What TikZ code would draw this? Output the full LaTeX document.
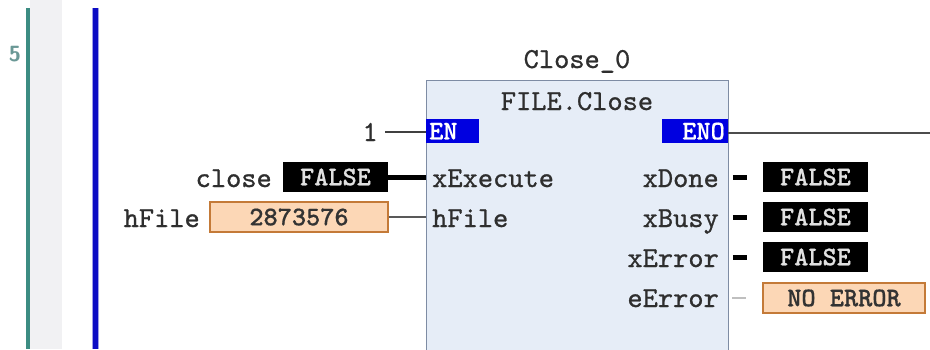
\documentclass[tikz,border=0pt]{standalone}
\usepackage{fontspec}
\newfontfamily\plcfont{lmmono10-regular}[Extension=.otf, FakeBold=0.9]
\newfontfamily\plcbold{lmmonolt10-bold}[Extension=.otf, FakeBold=0.5]
\usetikzlibrary{calc}
\definecolor{railteal}{HTML}{3C8C82}
\definecolor{railblue}{HTML}{0C0CC4}
\definecolor{stripgray}{HTML}{F1F1F3}
\definecolor{blkfill}{HTML}{E6EDF7}
\definecolor{blkdraw}{HTML}{7E8CA4}
\definecolor{pinblue}{HTML}{0000E0}
\definecolor{valorange}{HTML}{FCD7B6}
\definecolor{valorangedraw}{HTML}{C47A38}
\definecolor{linenum}{HTML}{6A9896}
\definecolor{txtgray}{HTML}{2E2E2E}
\tikzset{
  mono/.style={font=\plcfont\fontsize{29}{31}\selectfont, inner sep=0pt, text=txtgray},
  valfont/.style={font=\plcbold\fontsize{27}{29}\selectfont, inner sep=0pt},
  valblack/.style={valfont, fill=black, text=white!88!black, minimum height=30pt},
  valorng/.style={valfont, fill=valorange, draw=valorangedraw, line width=1.3pt, text=black!80, minimum height=30pt},
  pinbox/.style={valfont, fill=pinblue, text=white, minimum height=24pt},
  thickwire/.style={line width=5pt, black},
  thinwire/.style={line width=1.5pt, black!65},
  faintwire/.style={line width=1.2pt, black!25},
}
\begin{document}
\begin{tikzpicture}[x=1pt,y=-1pt]
\useasboundingbox (0,0) rectangle (930,349);
\clip (0,0) rectangle (930,349);
\fill[white] (0,0) rectangle (930,349);
% left rail area
\fill[stripgray] (30,0) rectangle (62,349);
\draw[railteal, line width=4pt] (27.5,8) -- (27.5,349);
\draw[railblue!40, line width=7pt] (95.5,8) -- (95.5,349);
\draw[railblue, line width=5pt] (95.5,8) -- (95.5,349);
\node[font=\sffamily\bfseries\fontsize{22}{24}\selectfont, text=linenum, inner sep=0pt] (lnum) at (15,54) {5};
% block
\node[draw=blkdraw, fill=blkfill, line width=1.3pt, minimum width=302pt, minimum height=275pt, anchor=north west, inner sep=0pt] (blk) at (426,80) {};
\node[mono, anchor=base] (inst) at (577,68) {Close\_0};
\node[mono, anchor=base] (ftype) at (577,110) {FILE.Close};
% EN / ENO
\node[pinbox, minimum width=53pt, text width=47pt, align=left, anchor=north west] (pEN) at (426,119) {EN};
\node[pinbox, minimum width=66pt, text width=60pt, align=right, anchor=north east] (pENO) at (728,119) {ENO};
\node[mono, anchor=base east] (one) at (378,141) {1};
\coordinate (enoEnd) at (930,133);
\coordinate (oneW) at ($(one.east)+(7,0)$);
\draw[thinwire, black!75] (oneW) -- (oneW -| pEN.west);
\draw[thinwire, black!70, line width=2pt] (pENO.east |- enoEnd) -- (enoEnd);
% input pins
\node[mono, anchor=base west] (pX) at (432,187) {xExecute};
\node[mono, anchor=base west] (pH) at (432,227) {hFile};
% output pins
\node[mono, anchor=base east] (pDone) at (719,187) {xDone};
\node[mono, anchor=base east] (pBusy) at (719,227) {xBusy};
\node[mono, anchor=base east] (pErr) at (719,267) {xError};
\node[mono, anchor=base east] (pEErr) at (719,307) {eError};
% inputs
\node[mono, anchor=base east] (lclose) at (272,187) {close};
\node[valblack, minimum width=105pt] (vclose) at (335.5,177) {FALSE};
\node[mono, anchor=base east] (lhfile) at (200,227) {hFile};
\node[valorng, minimum width=178pt] (vhfile) at (299,217) {2873576};
\draw[thickwire] (vclose.east) -- (vclose.east -| blk.west);
\draw[thinwire] (vhfile.east) -- (vhfile.east -| blk.west);
% outputs
\node[valblack, minimum width=105pt] (vdone) at (815.5,177) {FALSE};
\node[valblack, minimum width=105pt] (vbusy) at (815.5,217) {FALSE};
\node[valblack, minimum width=105pt] (verr) at (815.5,257) {FALSE};
\node[valorng, minimum width=162pt] (veerr) at (844,298) {NO ERROR};
\draw[thickwire] (vdone.west) ++(-30,0) coordinate (d1) -- ++(14,0);
\draw[thickwire] (vbusy.west) ++(-30,0) coordinate (d2) -- ++(14,0);
\draw[thickwire] (verr.west) ++(-30,0) coordinate (d3) -- ++(14,0);
\draw[faintwire] (veerr.west) ++(-30,0) coordinate (d4) -- ++(14,0);
\end{tikzpicture}
\end{document}
